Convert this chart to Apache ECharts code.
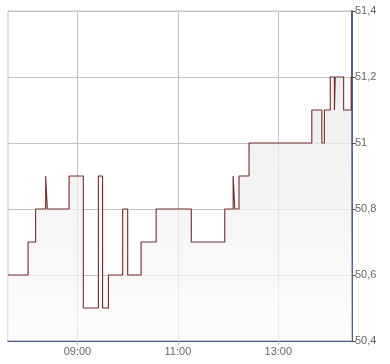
<!DOCTYPE html>
<html>
<head>
<meta charset="utf-8">
<script src="https://cdn.jsdelivr.net/npm/echarts@6/dist/echarts.min.js"></script>
<style>
html,body{margin:0;padding:0;background:#fff;}
#c{width:390px;height:364px;}
</style>
</head>
<body>
<div id="c"></div>
<script>
// step-change times and prices (value holds from its time until the next one)
var times = ['07:37','08:01','08:10','08:22','08:24','08:50','09:07','09:25','09:30','09:37','09:54','10:00','10:16','10:34','11:16','11:56','12:06','12:08','12:13','12:25','13:40','13:52','13:55','14:02','14:07','14:08','14:18','14:27','14:28'];
var prices = [50.6,50.7,50.8,50.9,50.8,50.9,50.5,50.9,50.5,50.6,50.8,50.6,50.7,50.8,50.7,50.8,50.9,50.8,50.9,51.0,51.1,51.0,51.1,51.2,51.1,51.2,51.1,51.2,51.2];
var xTickLabels = ['09:00','11:00','13:00'];
var yMin = 50.4, yMax = 51.4, yStep = 0.2;

function toMin(s){var p=s.split(':');return (+p[0])*60+(+p[1]);}
function fmtMin(m){var h=Math.floor(m/60),mm=Math.round(m%60);return (h<10?'0':'')+h+':'+(mm<10?'0':'')+mm;}

var data = times.map(function(t,i){return [toMin(t), prices[i]];});
var xTicks = xTickLabels.map(toMin);

var chart = echarts.init(document.getElementById('c'), null, {renderer:'canvas'});
chart.setOption({
  animation:false,
  backgroundColor:'#ffffff',
  grid:{left:8,right:38,top:11,bottom:23,show:true,borderColor:'#c4c4c4',borderWidth:1,backgroundColor:'transparent'},
  xAxis:{
    type:'value',
    min:toMin(times[0]), max:toMin(times[times.length-1]),
    axisLine:{show:true,lineStyle:{color:'#1d3b6a',width:1.5}},
    axisTick:{show:true,length:4,customValues:xTicks,lineStyle:{color:'#bdbdbd'}},
    axisLabel:{customValues:xTicks,formatter:function(v){return fmtMin(v);},color:'#666',fontSize:11,fontFamily:'Liberation Sans, Arial, sans-serif',margin:5},
    splitLine:{show:true,lineStyle:{color:'#c4c4c4',width:1}}
  },
  yAxis:{
    type:'value',position:'right',
    min:yMin,max:yMax,interval:yStep,
    axisLine:{show:true,lineStyle:{color:'#1d3b6a',width:1.5}},
    axisTick:{show:true,length:4,lineStyle:{color:'#555'}},
    axisLabel:{formatter:function(v){return (Math.round(v*10)/10).toString().replace('.',',');},color:'#666',fontSize:11,fontFamily:'Liberation Sans, Arial, sans-serif',margin:3},
    splitLine:{show:true,lineStyle:{color:'#c4c4c4',width:1}}
  },
  series:[{
    type:'line',
    step:'end',
    data:data,
    showSymbol:false,
    lineStyle:{color:'#732a2f',width:1.1},
    areaStyle:{origin:'start',color:new echarts.graphic.LinearGradient(0,0,0,1,[{offset:0,color:'#e8e8e8'},{offset:1,color:'#fbfbfb'}])}
  }]
});
</script>
</body>
</html>
